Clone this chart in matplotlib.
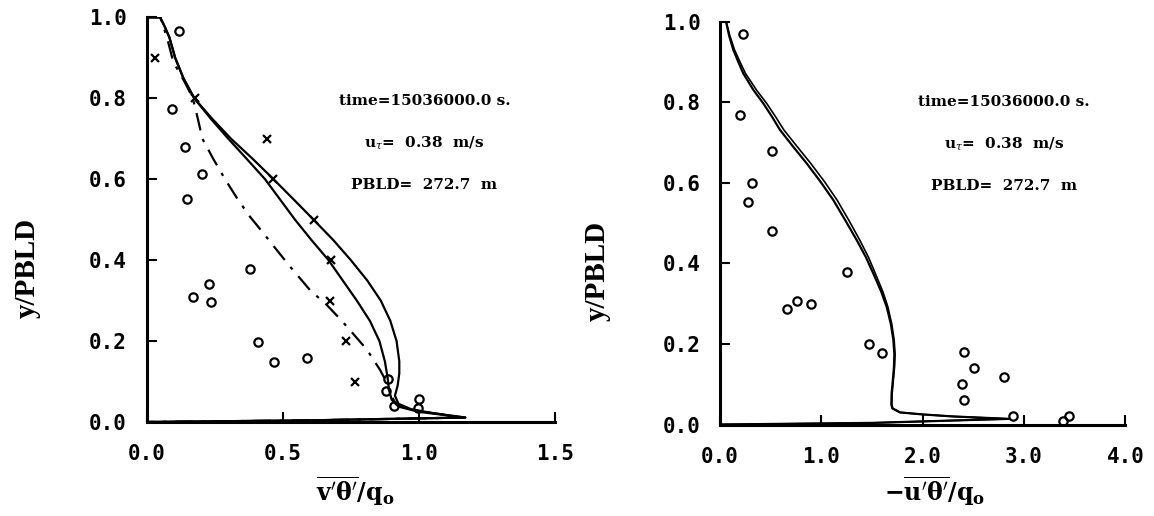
import matplotlib.pyplot as plt

plt.rcParams['mathtext.fontset'] = 'dejavuserif'

# ---- left panel: vertical heat flux v'theta'/q0 ----
vt_outer_x = [0.0, 0.05, 0.068, 0.084, 0.105, 0.135, 0.175, 0.24, 0.31, 0.39, 0.466, 0.54,
              0.613, 0.685, 0.75, 0.81, 0.86, 0.895, 0.918, 0.928, 0.928, 0.922, 0.912,
              0.925, 0.97, 1.05, 1.17, 0.6, 0.0]
vt_outer_y = [1.0, 1.0, 0.975, 0.95, 0.90, 0.85, 0.80, 0.75, 0.70, 0.65, 0.60, 0.55,
              0.50, 0.45, 0.40, 0.35, 0.30, 0.25, 0.20, 0.15, 0.12, 0.09, 0.065,
              0.045, 0.032, 0.022, 0.011, 0.004, 0.0]
vt_inner_x = [0.0, 0.05, 0.068, 0.084, 0.105, 0.135, 0.175, 0.235, 0.30, 0.368, 0.435, 0.49,
              0.545, 0.605, 0.668, 0.72, 0.772, 0.82, 0.855, 0.875, 0.885, 0.89, 0.90,
              0.925, 1.0, 1.17, 0.6, 0.0]
vt_inner_y = [1.0, 1.0, 0.975, 0.95, 0.90, 0.85, 0.80, 0.75, 0.70, 0.65, 0.60, 0.55,
              0.50, 0.45, 0.40, 0.35, 0.30, 0.25, 0.20, 0.15, 0.11, 0.08, 0.055,
              0.038, 0.025, 0.011, 0.004, 0.0]
vt_dash_x = [0.0, 0.05, 0.075, 0.098, 0.14, 0.17, 0.188, 0.205, 0.245, 0.29, 0.335, 0.38,
             0.425, 0.466, 0.527, 0.60, 0.662, 0.71, 0.747, 0.81, 0.858, 0.88, 0.895,
             0.915, 0.96, 1.05, 1.17, 0.6, 0.0]
vt_dash_y = [1.0, 1.0, 0.95, 0.89, 0.84, 0.80, 0.75, 0.70, 0.65, 0.598, 0.55, 0.507,
             0.47, 0.435, 0.384, 0.326, 0.289, 0.255, 0.227, 0.178, 0.128, 0.10, 0.07,
             0.045, 0.032, 0.022, 0.011, 0.004, 0.0]
vt_circ_x = [0.998, 0.91, 1.002, 0.88, 0.888, 0.469, 0.588, 0.41, 0.236, 0.17, 0.231,
             0.38, 0.148, 0.203, 0.141, 0.0925, 0.12]
vt_circ_y = [0.034, 0.04, 0.056, 0.077, 0.105, 0.147, 0.157, 0.198, 0.297, 0.31, 0.34,
             0.377, 0.551, 0.612, 0.68, 0.773, 0.967]
vt_cross_x = [0.766, 0.731, 0.674, 0.678, 0.613, 0.466, 0.441, 0.178, 0.031]
vt_cross_y = [0.10, 0.20, 0.30, 0.40, 0.50, 0.60, 0.70, 0.80, 0.90]

# ---- right panel: streamwise heat flux -u'theta'/q0 ----
ut_y = [1.0, 1.0, 0.965, 0.93, 0.90, 0.871, 0.83, 0.797, 0.765, 0.731, 0.69, 0.648,
        0.603, 0.557, 0.505, 0.458, 0.415, 0.375, 0.33, 0.292, 0.25, 0.21, 0.175,
        0.143, 0.11, 0.077, 0.05, 0.04, 0.03, 0.025, 0.02, 0.014, 0.004, 0.0]
ut_a_x = [0.0, 0.06, 0.09, 0.131, 0.18, 0.23, 0.33, 0.427, 0.51, 0.592, 0.72, 0.855,
          0.99, 1.118, 1.24, 1.348, 1.44, 1.512, 1.59, 1.644, 1.685, 1.71, 1.72,
          1.716, 1.705, 1.693, 1.69, 1.70, 1.775, 2.0, 2.30, 2.85, 1.5, 0.0]
ut_b_x = [0.0, 0.06, 0.097, 0.143, 0.197, 0.252, 0.36, 0.46, 0.545, 0.63, 0.76, 0.895,
          1.03, 1.155, 1.275, 1.378, 1.465, 1.532, 1.606, 1.656, 1.694, 1.718, 1.727,
          1.722, 1.71, 1.698, 1.695, 1.705, 1.78, 2.0, 2.30, 2.85, 1.5, 0.0]
ut_circ_x = [0.224, 0.197, 0.516, 0.312, 0.273, 0.516, 1.249, 0.658, 0.756, 0.897, 1.473,
             1.60, 2.403, 2.502, 2.798, 2.383, 2.403, 2.886, 3.445, 3.386]
ut_circ_y = [0.968, 0.768, 0.679, 0.60, 0.551, 0.480, 0.379, 0.286, 0.307, 0.298, 0.199,
             0.178, 0.181, 0.139, 0.119, 0.10, 0.061, 0.021, 0.022, 0.009]

x_ticks_left = [0.0, 0.5, 1.0, 1.5]
x_ticks_right = [0.0, 1.0, 2.0, 3.0, 4.0]
y_ticks = [0.0, 0.2, 0.4, 0.6, 0.8, 1.0]

info_lines = ['time=15036000.0 s.', r'u$_\tau$=  0.38  m/s', 'PBLD=  272.7  m']

fig = plt.figure(figsize=(11.54, 5.16), dpi=100)
ax1 = fig.add_axes([0.1270, 0.1822, 0.3540, 0.7843])
ax2 = fig.add_axes([0.6239, 0.1773, 0.3514, 0.7810])

tick_font = dict(family='DejaVu Sans Mono', weight='bold', size=15)
label_font = dict(family='Liberation Serif', weight='bold', size=21)
info_font = dict(family='DejaVu Serif', weight='bold', size=11)

lw = 1.6
ax1.plot(vt_outer_x, vt_outer_y, color='black', lw=lw)
ax1.plot(vt_inner_x, vt_inner_y, color='black', lw=lw)
ax1.plot(vt_dash_x, vt_dash_y, color='black', lw=lw, linestyle=(0, (8, 4, 1.5, 4)))
ax1.plot(vt_circ_x, vt_circ_y, 'o', ms=6, mfc='none', mec='black', mew=1.6)
ax1.plot(vt_cross_x, vt_cross_y, 'x', ms=6, color='black', mew=1.6)

ax2.plot(ut_a_x, ut_y, color='black', lw=lw)
ax2.plot(ut_b_x, ut_y, color='black', lw=1.2)
ax2.plot(ut_circ_x, ut_circ_y, 'o', ms=6, mfc='none', mec='black', mew=1.6)

panels = [(ax1, x_ticks_left, 1.5, 0.68, 0.793, -0.258),
          (ax2, x_ticks_right, 4.0, 0.70, 0.800, -0.27)]
for ax, xt, xmax, tx, ty, ylx in panels:
    ax.set_xlim(0, xmax)
    ax.set_ylim(0, 1.0)
    ax.set_xticks(xt)
    ax.set_yticks(y_ticks)
    ax.set_xticklabels([f'{v:.1f}' for v in xt], **tick_font)
    ax.set_yticklabels([f'{v:.1f}' for v in y_ticks], **tick_font)
    ax.tick_params(direction='in', length=7, width=1.5)
    ax.tick_params(axis='x', pad=16)
    ax.tick_params(axis='y', pad=14)
    for side in ['top', 'right']:
        ax.spines[side].set_visible(False)
    for side in ['left', 'bottom']:
        ax.spines[side].set_linewidth(2.2)
    ax.set_ylabel('y/PBLD', **label_font)
    ax.yaxis.set_label_coords(ylx, 0.38)
    for i, line in enumerate(info_lines):
        ax.text(tx, ty - i * 0.104, line, transform=ax.transAxes,
                ha='center', va='center', **info_font)

ax1.set_xlabel(r"$\mathbf{\overline{v'\theta'}/q_o}$", size=17)
ax1.xaxis.set_label_coords(0.51, -0.128)
ax2.set_xlabel(r"$\mathbf{-\overline{u'\theta'}/q_o}$", size=17)
ax2.xaxis.set_label_coords(0.53, -0.122)

fig.savefig('out.png', dpi=100)
